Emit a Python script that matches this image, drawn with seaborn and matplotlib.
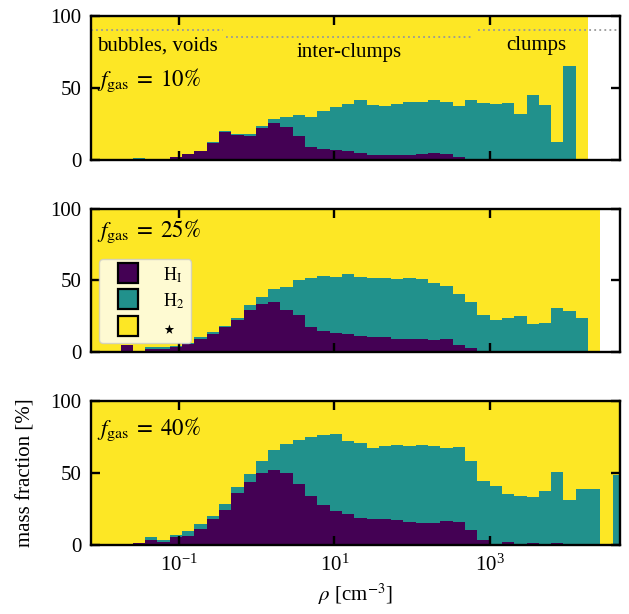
import numpy as np
import pandas as pd
import matplotlib
matplotlib.use("Agg")
import matplotlib.pyplot as plt
from matplotlib.lines import Line2D
from matplotlib.ticker import NullLocator
import seaborn as sns

# ---------------- data ----------------
# histogram bin edges in log10(rho / cm^-3)
BIN_WIDTH = 0.1585
edge_index = np.arange(-33, 12)
log_edges = 3.0 + BIN_WIDTH * edge_index

nan = np.nan
# mass fractions [%] per density bin (nan = no gas in that bin)
hi_10 = [0, 0, 0, 0, 0, 0, 0,
         1.6, 4.0, 5.8, 11.7, 19.6, 17.3, 16.8, 21.9, 25.4, 23.1, 16.8, 8.6, 7.2,
         6.8, 6.3, 4.8, 3.4, 3.3, 3.3, 3.3, 4.0, 4.7, 3.9, 2.2, 0.6, 0.2,
         0, 0, 0, 0, 0, 0, 0, 0, nan, nan, nan]
h2_10 = [0, 0, 0, 0, 1.0, 0, 0,
         0.4, 0.3, 0.3, 0.3, 0.4, 0.9, 0.9, 1.6, 3.0, 6.3, 14.0, 21.0, 26.4,
         29.8, 32.6, 36.4, 34.9, 34.2, 35.6, 36.9, 36.1, 37.0, 36.0, 34.9, 41.1, 39.0,
         38.5, 39.4, 31.7, 44.8, 38.2, 12.6, 65.3, 0, nan, nan, nan]

hi_25 = [0, 0, 0, 4.8, 0,
         2.4, 2.4, 3.5, 6.0, 9.5, 13.1, 17.3, 22.6, 29.6, 33.5, 35.1, 29.6, 26.1, 17.6,
         15.0, 13.6, 12.7, 11.1, 10.5, 10.5, 9.4, 9.0, 9.2, 8.9, 9.2, 5.3, 2.9, 0.6,
         0, 0, 0, 0, 0, 0, 0, 0, 0, nan, nan]
h2_25 = [0, 0, 0, 0, 0,
         1.1, 1.1, 0.7, 0.8, 0.9, 1.4, 0.7, 1.4, 3.2, 5.3, 8.8, 15.7, 24.0, 34.4,
         38.1, 39.1, 41.8, 41.2, 40.9, 40.9, 41.3, 42.6, 41.7, 39.4, 37.1, 35.1, 32.1, 25.6,
         22.2, 23.8, 25.0, 19.6, 20.3, 30.7, 28.9, 24.0, 0, nan, nan]

hi_40 = [0, 0, 0, 0,
         1.2, 3.5, 2.3, 5.8, 6.5, 10.9, 17.8, 24.3, 36.3, 44.0, 49.8, 52.1, 50.2, 42.6,
         34.3, 27.5, 23.6, 21.8, 18.9, 18.3, 18.1, 17.4, 16.1, 15.5, 15.6, 16.5, 16.3,
         10.3, 3.6,
         0, 1.8, 0, 1.5, 0, 1.5, 0, 0, 0, 0, 0]
h2_40 = [0, 0, 0, 0,
         0.4, 2.3, 1.2, 1.1, 3.2, 3.5, 2.6, 3.9, 4.2, 5.3, 8.5, 14.3, 19.9, 30.3,
         40.9, 48.7, 53.5, 50.7, 51.7, 49.2, 50.9, 52.5, 53.0, 54.0, 53.3, 51.2, 52.1,
         48.3, 41.2,
         41.2, 33.4, 34.0, 32.1, 37.5, 49.0, 31.3, 38.7, 38.7, 0, 48.6]

gas_fractions = ["10", "25", "40"]
phases = ["HI", "H2", "star"]
phase_labels = [r"H$_\mathrm{I}$", r"H$_2$", r"$\bigstar$"]
colors = {"HI": "#440154", "H2": "#21918c", "star": "#fde725"}

region_labels = ["bubbles, voids", "inter-clumps", "clumps"]


def panel_frame(hi, h2):
    hi = np.asarray(hi, float)
    h2 = np.asarray(h2, float)
    has_gas = ~np.isnan(hi)
    star = np.where(has_gas, 100.0 - np.nan_to_num(hi) - np.nan_to_num(h2), 0.0)
    centers = 10 ** (log_edges[:-1] + BIN_WIDTH / 2)
    rows = []
    for name, vals in zip(phases, [np.nan_to_num(hi), np.nan_to_num(h2), star]):
        rows.append(pd.DataFrame({"rho": centers, "frac": vals, "phase": name}))
    return pd.concat(rows, ignore_index=True)


# ---------------- style ----------------
sns.set_style("ticks")
plt.rcParams.update({
    "font.family": ["Liberation Serif", "DejaVu Serif"],
    "mathtext.fontset": "stix",
    "font.size": 15,
    "axes.linewidth": 1.7,
    "axes.edgecolor": "black",
    "axes.labelcolor": "black",
    "text.color": "black",
    "xtick.color": "black",
    "ytick.color": "black",
    "xtick.direction": "in",
    "ytick.direction": "in",
    "axes.axisbelow": False,
})

fig, axes = plt.subplots(3, 1, figsize=(6.29, 6.14), dpi=100, sharex=True)
fig.subplots_adjust(left=0.1447, right=0.9857, top=0.974, bottom=0.1124, hspace=0.34)

panels = [(hi_10, h2_10), (hi_25, h2_25), (hi_40, h2_40)]
label_y = [0.645, 0.94, 0.9]

for ax, fg, (hi, h2), ly in zip(axes, gas_fractions, panels, label_y):
    df = panel_frame(hi, h2)
    sns.histplot(data=df, x="rho", weights="frac", hue="phase",
                 hue_order=["star", "H2", "HI"], palette=colors,
                 multiple="stack", element="step", bins=[float(e) for e in log_edges],
                 log_scale=True, alpha=1, linewidth=0, legend=False, ax=ax)
    ax.set_axisbelow(False)
    ax.set_xscale("log")
    ax.set_xlim(10 ** -2.135, 10 ** 4.68)
    ax.set_ylim(0, 100)
    ax.set_yticks([0, 50, 100])
    ax.set_xticks([1e-1, 1e1, 1e3])
    ax.xaxis.set_minor_locator(NullLocator())
    ax.tick_params(which="both", direction="in", top=True, right=True,
                   length=6.5, width=1.7, pad=7, labelsize=15, colors="black")
    ax.set_xlabel("")
    ax.set_ylabel("")
    ax.text(0.011, ly, r"$f_\mathrm{gas}\;=\;%s\%%$" % fg, transform=ax.transAxes,
            ha="left", va="top", fontsize=16.5)
    for sp in ax.spines.values():
        sp.set_linewidth(1.7)
        sp.set_color("black")
        sp.set_zorder(5)

# density regimes in the top panel
ax0 = axes[0]
xmin, xmax = ax0.get_xlim()
dot = dict(colors="0.6", linestyles=(0, (1, 1.8)), linewidth=1.3, zorder=4)
ax0.hlines(90, xmin, 10 ** -0.43, **dot)
ax0.hlines(85.5, 10 ** -0.39, 10 ** 2.79, **dot)
ax0.hlines(90, 10 ** 2.85, xmax, **dot)
ax0.text(0.011, 86, region_labels[0], transform=ax0.get_yaxis_transform(),
         ha="left", va="top", fontsize=15)
ax0.text(10 ** 1.19, 81, region_labels[1], ha="center", va="top", fontsize=15)
ax0.text(10 ** 3.6, 86, region_labels[2], ha="center", va="top", fontsize=15)

# legend in middle panel
handles = [Line2D([], [], linestyle="none", marker="s", markersize=14,
                  markerfacecolor=colors[p], markeredgecolor="black",
                  markeredgewidth=1.6) for p in phases]
leg = axes[1].legend(handles, phase_labels, loc="lower left",
                     bbox_to_anchor=(0.0157, 0.065), borderaxespad=0, fontsize=13,
                     handlelength=2.42, handleheight=1.17, handletextpad=0.75,
                     labelspacing=0.37, borderpad=0.37, frameon=True)
leg.get_texts()[2].set_fontsize(9)

axes[2].set_xlabel(r"$\rho$ [cm$^{-3}$]", fontsize=15)
axes[2].set_ylabel("mass fraction [%]", fontsize=15)
axes[2].yaxis.set_label_coords(-0.105, 0.5)

fig.savefig("out.png", dpi=100)
